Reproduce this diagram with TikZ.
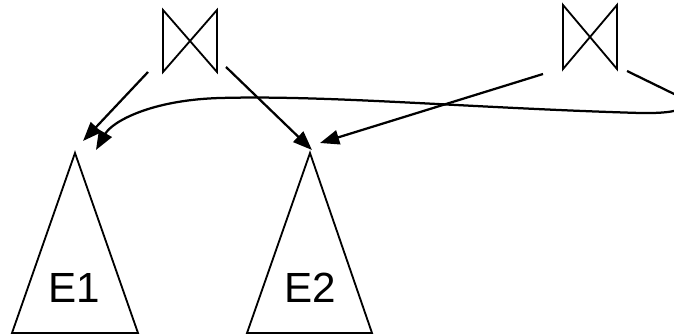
\documentclass[tikz,border=0pt]{standalone}
\usepackage{fontspec}
\setmainfont{Liberation Sans}
\usetikzlibrary{arrows.meta}
\begin{document}
\begin{tikzpicture}[x=0.025cm, y=-0.025cm, line width=1.6pt, line join=miter,
    joinop/.style={line width=1.3pt},
    ptr/.style={-{Triangle[length=0.48cm,width=0.36cm]}},
    lbl/.style={font=\fontsize{30}{36}\selectfont}]
    \useasboundingbox (0,0) rectangle (674,335);
    \clip (0,0) rectangle (674,335);

    % Join operators
    \draw[joinop] (163,10) -- (217,72) -- (217,10) -- (163,72) -- cycle;
    \draw[joinop] (563,5) -- (617,69) -- (617,5) -- (563,69) -- cycle;

    % Subexpression trees
    \draw[line width=1.3pt] (12,333) -- (75,153) -- (138,333) -- cycle;
    \draw[line width=1.3pt] (247,333) -- (310,153) -- (372,333) -- cycle;
    \node[lbl] (e1) at (74,288) {E1};
    \node[lbl] (e2) at (310,288) {E2};

    % Ends of the pointers
    \coordinate (j1l) at (148,72);
    \coordinate (j1r) at (226,67);
    \coordinate (j2l) at (543,74);
    \coordinate (j2r) at (627,71);
    \coordinate (e1a) at (83,141);
    \coordinate (e1b) at (96,150);
    \coordinate (e2a) at (312,150);
    \coordinate (e2b) at (320,143);

    % Pointers to the shared subexpressions
    \draw[ptr] (j1l) -- (e1a);
    \draw[ptr] (j1r) -- (e2a);
    \draw[ptr] (j2l) -- (e2b);
    \draw[ptr] (j2r) -- (670,92)
        .. controls (694,103) and (692,114) .. (640,113)
        .. controls (470,108) and (330,95) .. (220,98)
        .. controls (150,100) and (112,122) .. (e1b);
\end{tikzpicture}
\end{document}
